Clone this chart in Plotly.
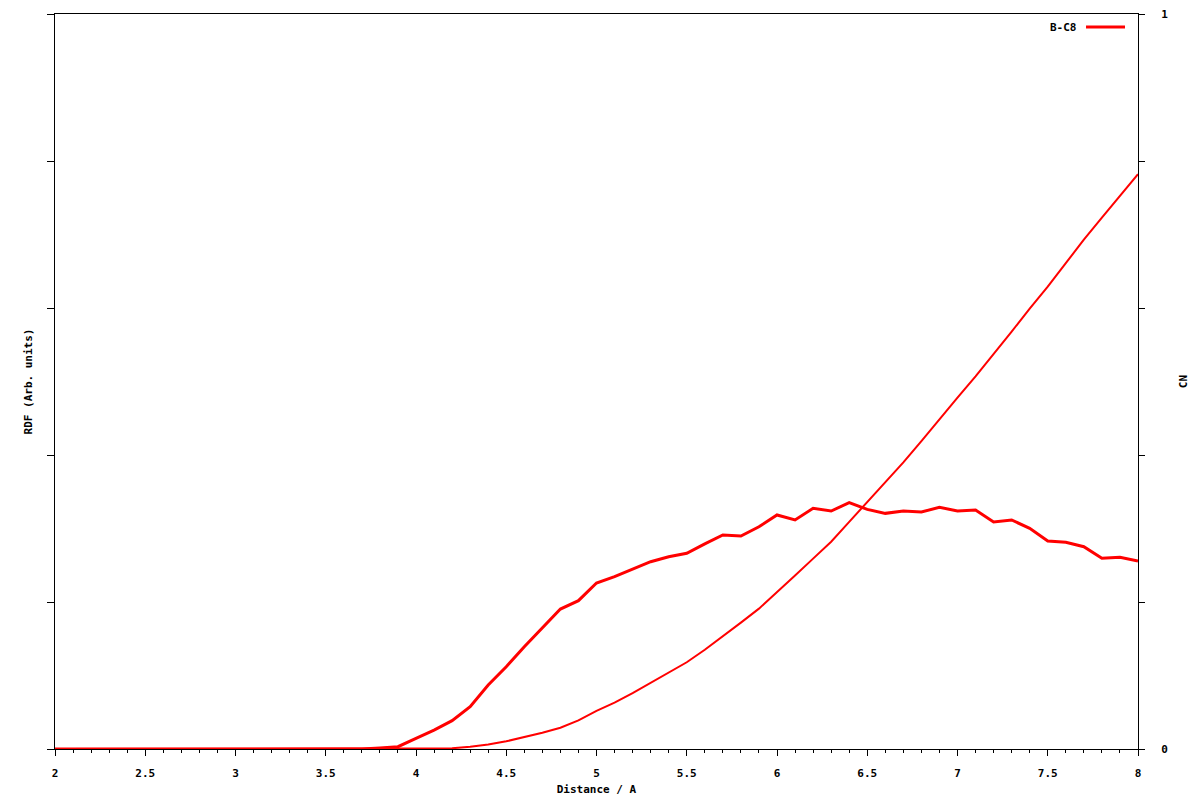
import plotly.graph_objects as go

# Distance grid (Angstrom)
distance = [round(2.0 + 0.1 * i, 1) for i in range(61)]

# RDF (arbitrary units)
rdf_zero_part = [0.0] * 18  # 2.0 .. 3.7
rdf_values = rdf_zero_part + [
    0.007, 0.016, 0.073, 0.129, 0.193, 0.288, 0.435, 0.560, 0.696, 0.823,   # 3.8 - 4.7
    0.952, 1.009, 1.129, 1.172, 1.224, 1.274, 1.308, 1.331, 1.395, 1.456,   # 4.8 - 5.7
    1.449, 1.512, 1.592, 1.558, 1.637, 1.619, 1.676, 1.630, 1.603, 1.619,   # 5.8 - 6.7
    1.612, 1.644, 1.619, 1.626, 1.544, 1.558, 1.501, 1.415, 1.406, 1.376,   # 6.8 - 7.7
    1.297, 1.304, 1.279,                                                   # 7.8 - 8.0
]

# Coordination number
cn_zero_part = [0.0] * 20  # 2.0 .. 3.9
cn_values = cn_zero_part + [
    0.000, 0.0003, 0.001, 0.003, 0.006, 0.0105, 0.016, 0.022, 0.029, 0.039,  # 4.0 - 4.9
    0.052, 0.063, 0.076, 0.090, 0.105, 0.118, 0.135, 0.153, 0.172, 0.191,    # 5.0 - 5.9
    0.213, 0.236, 0.259, 0.282, 0.309, 0.336, 0.362, 0.390, 0.419, 0.449,    # 6.0 - 6.9
    0.478, 0.507, 0.537, 0.568, 0.599, 0.629, 0.661, 0.693, 0.723, 0.753,    # 7.0 - 7.9
    0.782,                                                                   # 8.0
]

cn_tick_vals = [0, 0.2, 0.4, 0.6, 0.8, 1.0]
cn_tick_text = ["0", "", "", "", "", "1"]
series_name = "B-C8"

FONT = dict(family="DejaVu Sans Mono", size=11, color="black", weight="bold")
RED = "#ff0000"

fig = go.Figure()
fig.add_trace(go.Scatter(x=distance, y=rdf_values, mode="lines",
                         line=dict(color=RED, width=3), name=series_name,
                         yaxis="y", showlegend=False))
fig.add_trace(go.Scatter(x=distance, y=cn_values, mode="lines",
                         line=dict(color=RED, width=2), name="CN",
                         yaxis="y2", showlegend=False))

# page body has an 8px margin, so the figure is 8px smaller and margins shifted
fig.update_layout(
    width=1192, height=792,
    margin=dict(l=47, r=62, t=6, b=51),
    paper_bgcolor="white", plot_bgcolor="white",
    font=FONT,
    xaxis=dict(
        range=[2, 8], tick0=2, dtick=0.5, automargin=False,
        ticks="outside", ticklen=6, tickwidth=1, tickcolor="black",
        showline=True, linecolor="black", linewidth=1, mirror=True,
        showgrid=False, zeroline=False, ticklabelstandoff=8,
        ticklabeloverflow="allow",
        minor=dict(tick0=2, dtick=0.1, ticks="outside", ticklen=3,
                   tickcolor="black", showgrid=False),
        title=dict(text="Distance / A", font=FONT, standoff=6),
        tickfont=FONT,
    ),
    yaxis=dict(
        range=[0, 5], dtick=1, ticks="outside", ticklen=7, tickcolor="black",
        showticklabels=False, showline=True, linecolor="black", linewidth=1,
        showgrid=False, zeroline=False, automargin=False,
        title=dict(text="RDF (Arb. units)", font=FONT, standoff=12),
    ),
    yaxis2=dict(
        range=[0, 1], overlaying="y", side="right", automargin=False,
        tickvals=cn_tick_vals, ticktext=cn_tick_text,
        ticks="outside", ticklen=6, tickcolor="black",
        showline=True, linecolor="black", linewidth=1,
        showgrid=False, zeroline=False, ticklabelstandoff=14,
        ticklabeloverflow="allow",
        title=dict(text="CN", font=FONT, standoff=12),
        tickfont=FONT,
    ),
)

# gnuplot-style key: label then line sample, top right
fig.add_annotation(x=0.9455, y=0.9816, xref="paper", yref="paper",
                   text=series_name, showarrow=False, xanchor="right",
                   yanchor="middle", font=FONT)
fig.add_shape(type="line", xref="paper", yref="paper",
              x0=0.952, x1=0.988, y0=0.9823, y1=0.9823,
              line=dict(color=RED, width=3))

fig.write_html("out.html")
